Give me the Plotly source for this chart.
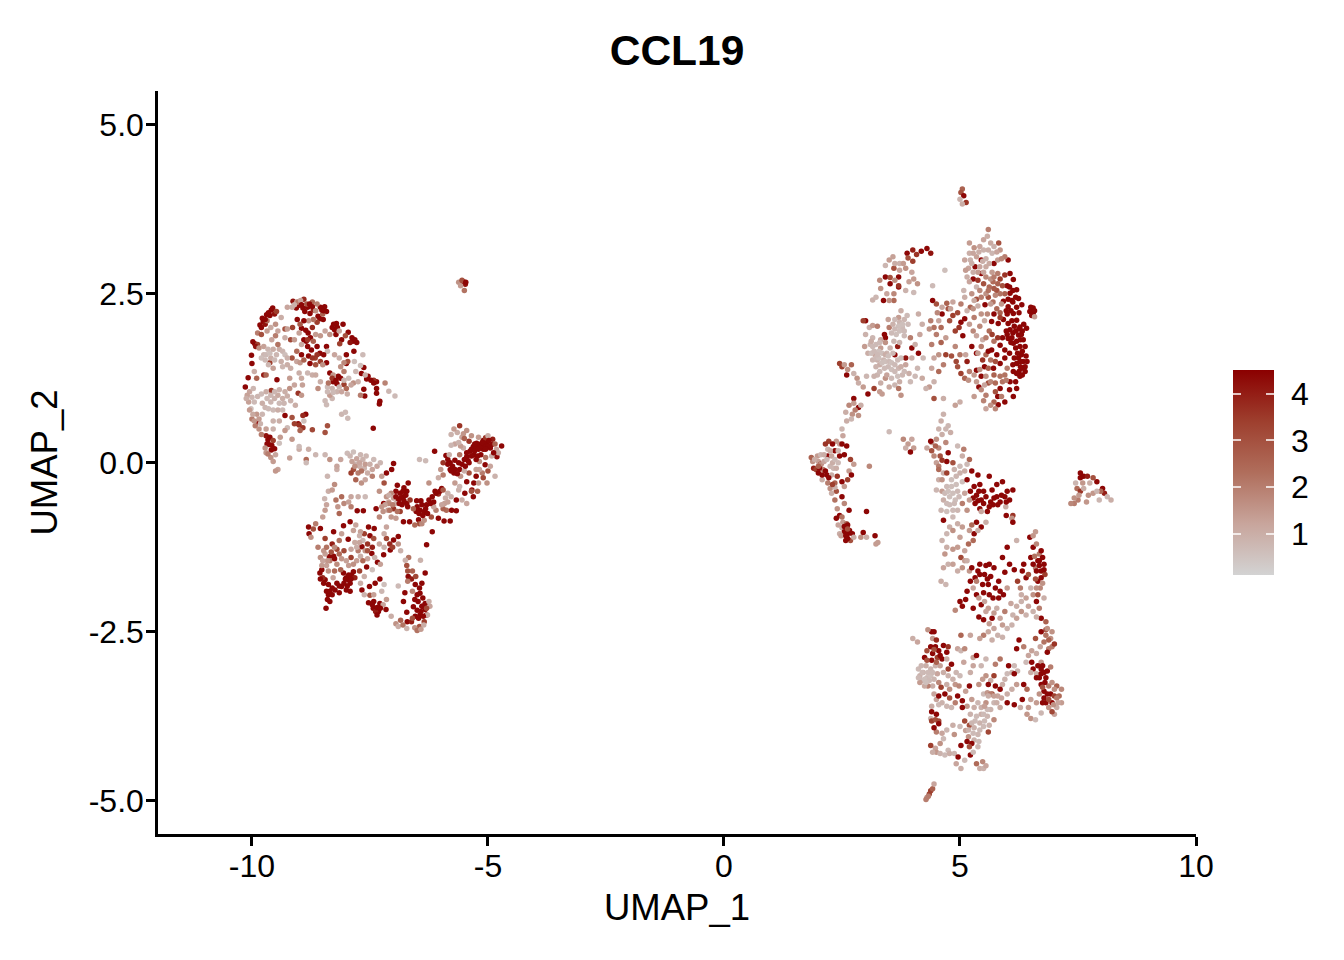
import plotly.graph_objects as go

# (UMAP_1, UMAP_2, CCL19 expression), one list per island
arc_cells = [
    (-9.76,2.09,4.4),(-9.69,2.19,4.4),(-9.59,2.26,4.4),(-9.83,2.04,4.4),(-9.94,1.76,4.4),(-10.01,1.59,4.4),
    (-10.0,1.47,4.4),(-10.08,1.26,4.4),(-10.14,1.12,4.4),(-9.13,2.39,4.2),(-8.9,2.42,3.8),(-9.06,2.29,4.4),
    (-8.88,2.24,4.4),(-8.77,2.21,4.4),(-8.46,2.31,4.4),(-8.42,2.24,4.4),(-8.49,2.12,4.4),(-9.04,2.12,4.4),
    (-8.95,1.99,4.4),(-8.81,1.92,4.4),(-8.85,1.8,4.4),(-8.74,1.67,4.4),(-8.56,1.62,4.4),(-8.42,1.72,4.4),
    (-8.21,2.06,4.4),(-8.25,1.97,4.4),(-8.07,2.05,4.4),(-7.96,1.93,4.4),(-8.1,1.82,4.4),(-7.86,1.8,4.4),
    (-7.84,1.65,4.4),(-8.0,1.6,4.4),(-8.0,1.47,4.4),(-8.42,1.48,4.4),(-8.77,1.47,4.4),(-8.35,1.33,4.4),
    (-8.17,1.28,4.4),(-8.2,1.17,4.4),(-7.68,1.32,4.4),(-7.54,1.28,4.4),(-7.36,1.2,4.4),(-7.36,1.1,4.4),
    (-7.63,1.41,4.4),(-7.63,1.09,4.4),(-7.61,0.99,4.4),(-7.29,0.91,4.4),(-7.3,0.87,4.4),(-9.47,1.23,4.4),
    (-9.59,1.07,3.6),(-9.02,1.03,3.6),(-8.86,0.72,4.4),(-9.02,0.58,4.4),(-9.3,0.7,4.4),(-9.87,0.6,4.4),
    (-7.43,0.51,4.4),(-9.66,0.34,4.4),(-9.59,0.19,4.4),(-9.52,0.21,4.4),(-9.7,0.4,4.2),(-9.64,0.27,4.2),
    (-9.8,2.0,4.4),(-9.72,2.05,4.2),(-9.62,2.18,4.4),(-9.52,2.2,4.2),(-9.0,2.33,4.4),(-8.82,2.3,4.4),
    (-8.7,2.26,4.0),(-8.55,2.3,4.4),(-8.6,2.17,4.4),(-8.72,2.0,3.8),(-8.86,1.96,4.4),(-8.9,1.82,4.4),
    (-8.82,1.72,4.4),(-8.62,1.72,4.4),(-8.66,1.55,3.4),(-8.55,1.5,3.4),(-8.3,2.0,4.4),(-8.19,2.0,4.4),
    (-7.92,1.78,4.2),(-7.78,1.78,4.4),(-8.14,1.76,3.4),(-7.97,1.5,3.0),(-8.28,1.2,4.4),(-8.05,1.16,3.4),
    (-7.57,1.24,4.4),(-7.42,1.22,3.6),(-7.36,1.03,4.4),(-9.15,1.55,3.0),(-9.18,1.82,3.2),(-9.3,1.98,3.0),
    (-9.14,2.0,3.4),(-9.62,1.48,3.4),(-9.75,1.3,4.0),(-9.98,1.79,4.4),(-9.88,1.75,3.4),(-9.0,0.56,3.6),
    (-9.1,0.58,3.4),(-9.15,0.67,3.0),(-8.92,0.7,3.8),(-8.72,0.49,3.2),(-8.4,0.55,3.0),(-8.45,0.45,3.0),
    (-9.68,2.1,2.2),(-9.5,2.05,1.6),(-9.38,2.15,1.0),(-9.25,2.3,1.2),(-9.15,2.3,1.0),(-9.05,2.38,1.4),
    (-8.72,2.38,2.4),(-8.62,2.35,2.0),(-8.5,2.2,2.6),(-9.6,2.0,1.1),(-9.45,1.95,1.2),(-9.25,1.98,1.3),
    (-9.3,1.85,1.0),(-9.75,1.6,0.8),(-9.8,1.55,0.6),(-9.72,1.52,0.7),(-9.65,1.45,0.8),(-9.6,1.55,1.0),
    (-9.42,1.68,1.0),(-9.35,1.65,0.8),(-9.3,1.6,0.6),(-9.25,1.55,0.9),(-9.38,1.5,1.0),(-9.35,1.42,0.8),
    (-9.25,1.45,1.0),(-9.05,1.5,1.2),(-8.98,1.48,1.5),(-9.18,1.4,1.0),(-9.0,1.33,1.0),(-8.82,1.33,0.8),
    (-8.72,1.3,1.0),(-8.95,1.25,1.1),(-9.2,1.25,1.4),(-9.1,1.15,1.2),(-8.93,1.15,1.3),(-9.2,1.1,1.6),
    (-8.95,1.0,1.5),(-9.45,1.0,1.1),(-9.52,0.95,0.9),(-9.35,0.95,1.0),(-9.25,0.99,1.0),(-9.6,0.9,0.8),
    (-9.42,0.88,0.7),(-9.32,0.88,0.8),(-9.18,0.92,0.9),(-9.08,0.85,1.0),(-10.05,1.05,1.2),(-9.97,1.1,0.8),
    (-10.0,0.97,0.8),(-10.07,0.9,1.3),(-9.95,0.9,0.7),(-10.02,0.8,0.6),(-9.9,0.72,1.5),(-9.85,0.65,1.4),
    (-10.0,0.65,2.0),(-9.93,0.55,2.0),(-9.85,0.5,1.6),(-9.8,0.42,2.0),(-9.7,0.5,1.3),(-9.55,0.5,0.9),
    (-9.42,0.62,1.0),(-9.55,0.62,0.9),(-9.25,0.52,0.7),(-9.3,0.48,1.5),(-9.15,0.35,1.5),(-9.0,0.2,1.0),
    (-9.0,0.24,0.7),(-9.4,0.38,1.4),(-9.42,0.29,0.6),(-9.7,0.15,1.5),(-9.6,0.08,1.6),(-9.55,0.02,1.4),
    (-9.45,-0.1,1.3),(-9.5,-0.12,1.5),(-8.8,0.2,1.0),(-8.65,0.12,0.8),(-8.85,0.05,2.4),(-8.85,0.0,0.7),
    (-9.2,0.07,1.3),(-8.42,0.86,0.7),(-8.1,0.72,0.8),(-7.97,0.66,0.7),(-8.02,0.75,0.7),(-8.9,0.62,0.6),
    (-8.4,1.65,0.7),(-8.15,1.55,0.9),(-8.05,1.48,1.8),(-7.65,1.6,0.7),(-7.83,1.5,0.6),(-7.7,1.44,0.6),
    (-7.8,1.35,0.8),(-7.6,1.3,0.9),(-7.85,1.18,1.6),(-7.75,1.2,1.0),(-7.18,1.18,1.9),(-7.1,1.06,0.8),
    (-6.97,0.99,0.7),(-7.7,1.0,2.0),(-8.3,0.95,0.8),(-8.45,0.92,0.7),(-8.35,1.0,1.4),(-8.2,1.05,0.9),
    (-8.1,1.05,1.2),(-7.98,1.02,1.0),(-8.4,1.12,0.7),(-8.28,1.3,1.5),(-8.5,1.45,1.6),(-8.65,1.3,1.1),
    (-8.55,1.2,1.0),(-8.6,1.1,1.7),(-8.95,1.75,1.1),(-9.05,1.65,2.4),(-9.0,1.92,1.3),(-9.1,1.82,1.4),
    (-9.5,1.88,2.0),(-9.45,1.75,2.2),(-9.7,1.3,2.5),(-9.55,1.4,1.3),(-9.9,1.25,2.6),(-9.95,1.35,1.0),
    # second pass over the crowded parts of the arc
    (-9.78,2.14,4.4),(-9.72,2.12,4.4),(-9.65,2.22,4.4),(-9.56,2.29,4.4),(-9.48,2.24,3.4),(-9.88,1.92,2.0),
    (-9.8,1.9,3.0),(-9.68,1.95,1.4),(-9.58,1.82,1.2),(-9.92,1.72,4.2),(-9.85,1.7,1.6),(-9.75,1.72,1.3),
    (-9.66,1.68,0.8),(-9.7,1.6,0.7),(-9.62,1.62,0.6),(-9.52,1.52,0.7),(-9.48,1.6,0.8),(-9.55,1.68,1.0),
    (-9.02,2.38,2.0),(-8.97,2.4,1.2),(-9.1,2.34,0.9),(-8.95,2.34,4.4),(-8.92,2.29,4.4),(-8.84,2.35,2.8),
    (-8.78,2.35,4.4),(-8.72,2.31,4.4),(-8.65,2.25,1.6),(-8.52,2.26,4.4),(-8.48,2.25,4.4),(-8.56,2.13,4.4),
    (-8.62,2.08,3.4),(-8.7,2.12,2.2),(-8.8,2.1,1.5),(-8.9,2.1,4.4),(-8.98,2.05,2.8),(-8.76,1.85,4.4),
    (-8.7,1.8,2.6),(-8.82,1.82,3.6),(-8.65,1.9,1.4),(-8.55,1.88,1.5),(-8.45,1.95,1.2),(-8.35,1.9,1.6),
    (-8.22,1.9,4.4),(-8.27,2.05,4.4),(-8.15,1.95,1.2),(-8.02,1.88,3.0),(-7.88,1.85,4.4),(-7.82,1.82,4.4),
    (-8.95,1.6,4.4),(-8.9,1.52,2.6),(-8.8,1.58,4.4),(-8.72,1.55,3.6),(-8.62,1.6,3.6),(-8.65,1.45,3.0),
    (-8.48,1.6,4.4),(-8.25,1.6,1.2),(-8.12,1.42,1.6),(-8.05,1.35,2.0),(-8.3,1.25,3.6),(-8.22,1.22,4.4),
    (-8.12,1.25,4.4),(-8.38,1.18,2.2),(-8.3,1.1,0.9),(-8.4,1.05,0.7),(-8.28,1.04,0.7),(-8.15,1.12,0.8),
    (-8.05,1.22,0.8),(-7.95,1.25,0.7),(-7.9,1.15,1.2),(-8.0,1.1,2.4),(-7.48,1.22,4.4),(-7.42,1.18,4.4),
    (-10.1,1.0,1.3),(-10.12,0.95,1.0),(-10.05,0.78,1.4),(-9.98,0.72,1.1),(-9.95,0.62,1.5),(-9.82,0.58,0.9),
    (-9.78,0.72,0.8),(-9.72,0.82,0.8),(-9.78,0.88,1.0),(-9.68,0.95,0.7),(-9.88,0.98,0.8),(-9.8,1.02,0.7),
    (-9.7,1.05,1.0),(-9.6,1.0,0.8),(-9.52,1.05,0.8),(-9.42,1.08,0.9),(-9.3,1.05,1.0),(-9.65,0.8,0.7),
    (-9.55,0.78,0.7),(-9.45,0.78,1.0),(-9.35,0.78,0.7),(-9.62,0.38,4.4),(-9.68,0.28,4.4),(-9.58,0.26,4.4),
    (-9.55,0.33,3.4),(-9.72,0.22,1.6),(-9.66,0.13,2.0),(-9.5,0.12,1.2),(-8.92,0.52,3.6),(-8.98,0.48,2.6),
]
valley_cells = [
    (-6.79,-0.5,4.4),(-6.86,-0.45,4.4),(-6.69,-0.3,4.4),(-7.0,-0.01,4.4),(-7.04,-0.1,4.4),(-7.21,-0.6,4.4),
    (-7.37,-0.68,4.4),(-7.64,-0.71,4.4),(-7.77,-0.71,4.4),(-7.92,-0.87,4.4),(-8.06,-0.93,4.4),(-8.8,-0.95,4.4),
    (-8.79,-1.05,4.4),(-8.27,-1.02,4.4),(-7.53,-0.95,4.4),(-7.41,-0.97,4.4),(-6.79,-0.87,4.4),(-6.66,-0.87,4.4),
    (-6.47,-0.84,4.4),(-6.51,-0.56,4.4),(-6.44,-0.7,4.4),(-6.3,-0.62,4.4),(-6.12,-0.42,4.4),(-5.98,-0.38,4.4),
    (-6.05,-0.82,4.4),(-5.93,-0.86,4.4),(-5.8,-0.86,4.4),(-5.77,-0.7,4.4),(-5.67,-0.71,4.4),(-5.67,-0.55,4.4),
    (-6.18,-1.02,4.4),(-6.3,-1.21,4.4),(-6.95,-0.42,4.4),(-6.9,-0.55,4.4),(-6.82,-0.62,4.4),(-6.72,-0.6,4.4),
    (-6.72,-0.42,4.4),(-6.92,-0.33,4.4),(-6.78,-0.37,4.4),(-6.42,-0.56,4.4),(-6.35,-0.72,4.4),(-6.25,-0.55,4.4),
    (-6.4,-0.62,4.4),(-6.18,-0.5,4.4),(-6.05,-0.46,3.8),(-7.0,-0.68,3.6),(-6.86,-0.72,3.4),(-6.45,-0.9,3.0),
    (-8.56,-1.63,4.4),(-8.45,-1.73,4.4),(-8.38,-1.8,4.4),(-8.38,-1.95,4.4),(-8.43,-2.15,4.4),(-8.24,-1.88,4.4),
    (-8.1,-1.83,4.4),(-7.96,-1.73,4.4),(-8.06,-1.63,4.4),(-7.89,-1.66,4.4),(-7.85,-1.61,4.4),(-7.57,-1.54,4.4),
    (-7.34,-1.47,4.4),(-7.67,-1.88,4.4),(-7.51,-1.83,4.4),(-7.53,-2.07,4.4),(-7.43,-2.15,4.4),(-7.32,-2.2,4.4),
    (-7.16,-2.17,4.4),(-7.29,-2.08,4.4),(-7.39,-1.78,4.4),(-7.29,-1.72,4.4),(-8.27,-1.38,4.4),(-8.36,-1.39,4.4),
    (-7.96,-1.13,4.4),(-7.67,-1.24,4.4),(-7.46,-1.34,4.4),(-7.21,-1.36,4.4),(-7.0,-1.14,4.4),(-6.9,-1.09,4.4),
    (-7.07,-1.29,4.4),(-8.5,-1.7,3.8),(-8.35,-2.05,4.4),(-8.3,-1.95,4.4),(-8.0,-1.7,4.4),(-7.92,-1.78,4.4),
    (-7.98,-1.82,4.4),(-7.82,-1.7,4.0),(-7.72,-1.6,3.4),(-8.15,-1.92,4.4),(-8.52,-1.58,4.4),(-7.38,-2.2,4.0),
    (-7.42,-2.05,4.4),(-7.5,-1.96,3.0),(-7.9,-1.4,3.4),(-8.05,-1.3,3.2),(-8.2,-1.28,3.2),(-8.3,-1.2,4.0),
    (-8.45,-1.12,3.4),(-7.55,-1.2,3.6),(-7.5,-1.08,4.4),(-7.62,-1.05,3.4),(-7.08,-1.2,3.8),(-7.15,-1.12,3.2),
    (-7.02,-1.25,3.4),(-7.45,-1.25,4.0),(-6.69,-1.68,4.4),(-6.33,-1.63,4.4),(-6.54,-1.8,4.4),(-6.4,-1.78,4.4),
    (-6.44,-1.93,4.4),(-6.76,-1.92,4.4),(-6.79,-2.05,4.4),(-6.58,-2.13,4.4),(-6.33,-2.08,4.4),(-6.33,-2.17,4.4),
    (-6.44,-2.25,4.4),(-6.72,-2.21,4.4),(-6.71,-2.35,4.4),(-6.54,-2.27,4.4),(-6.38,-2.0,4.4),(-6.3,-2.25,4.4),
    (-6.5,-1.95,4.4),(-6.45,-1.85,4.4),(-6.62,-1.72,4.0),(-6.7,-1.6,3.0),(-6.72,-1.52,3.0),(-6.53,-1.68,3.2),
    (-6.6,-1.6,2.6),(-6.62,-2.35,4.0),(-6.45,-2.42,3.0),(-6.35,-2.35,3.4),(-6.85,-2.33,2.6),(-6.95,-2.38,1.6),
    (-6.9,-2.42,1.0),(-6.8,-2.4,2.2),(-6.72,-2.45,0.9),(-6.55,-2.44,1.6),(-6.5,-2.48,2.2),(-6.42,-2.46,1.4),
    (-6.36,-2.4,1.0),(-6.28,-2.25,1.0),(-6.23,-2.12,1.2),(-6.25,-2.05,1.0),(-7.05,-2.27,1.0),(-6.9,-1.82,0.7),
    (-6.68,-1.4,2.2),(-6.75,-1.44,0.9),(-6.43,-1.44,0.9),(-6.6,-1.9,1.8),(-6.7,-1.75,2.0),
    (-8.75,-1.1,1.6),(-8.55,-0.97,4.4),(-8.65,-0.9,2.0),(-8.7,-0.98,3.0),(-8.6,-1.25,2.0),(-8.55,-1.4,1.6),
    (-8.52,-1.52,1.4),(-8.42,-1.52,1.3),(-8.35,-1.45,2.0),(-8.2,-1.5,1.7),(-8.1,-1.42,1.5),(-8.0,-1.45,1.3),
    (-8.45,-1.35,1.3),(-8.25,-1.25,1.7),(-8.15,-1.15,2.2),(-8.1,-1.05,1.3),(-7.85,-1.0,1.3),(-7.8,-0.92,1.2),
    (-7.7,-1.02,1.3),(-7.65,-1.15,0.8),(-7.72,-1.18,1.2),(-7.6,-1.3,1.5),(-7.75,-1.3,2.0),(-7.55,-1.42,1.2),
    (-7.4,-1.4,0.9),(-7.28,-1.5,1.3),(-7.45,-1.58,0.6),(-7.62,-1.68,1.0),(-7.7,-1.78,1.0),(-7.62,-1.95,0.9),
    (-7.42,-1.95,1.3),(-7.25,-1.9,0.8),(-7.2,-1.8,0.6),(-7.15,-2.02,1.4),(-7.22,-2.1,1.2),(-8.46,-0.53,0.8),
    (-8.42,-0.62,1.2),(-8.45,-0.7,1.4),(-8.5,-0.8,1.3),(-8.38,-0.42,1.0),(-8.25,-0.32,1.7),(-8.3,-0.4,1.4),
    (-8.4,-0.2,0.8),(-8.18,-0.65,1.5),(-8.1,-0.5,2.4),(-8.05,-0.6,1.8),(-7.95,-0.58,1.3),(-7.9,-0.65,2.0),
    (-8.22,-0.55,2.2),(-8.15,-0.75,2.5),(-7.9,-0.5,1.2),(-7.75,-0.5,1.0),(-8.2,-0.1,1.0),(-8.35,0.05,1.6),
    (-8.45,0.12,0.8),(-8.12,0.05,1.2),(-7.98,0.14,0.7),(-7.85,0.16,0.6),(-7.78,0.06,1.2),(-7.7,0.12,0.8),
    (-7.8,-0.02,0.8),(-7.72,-0.05,1.0),(-7.65,0.05,0.9),(-7.62,-0.08,0.9),(-7.75,-0.15,2.0),(-7.85,-0.1,3.0),
    (-7.9,-0.15,3.4),(-7.8,-0.25,2.6),(-7.68,-0.3,1.6),(-7.6,-0.25,1.2),(-7.55,-0.15,1.0),(-7.45,-0.1,1.2),
    (-7.35,-0.05,1.2),(-7.28,0.0,0.8),(-7.42,0.05,0.7),(-7.25,-0.2,1.4),(-7.2,-0.3,3.0),(-7.15,-0.15,4.4),
    (-7.6,-0.5,0.7),(-7.3,-0.42,1.6),(-7.15,-0.5,1.6),(-7.1,-0.58,1.3),(-7.05,-0.45,1.8),(-7.0,-0.52,1.3),
    (-7.22,-0.72,1.6),(-7.12,-0.7,1.4),(-7.05,-0.8,1.5),(-6.92,-0.72,2.2),(-6.95,-0.6,1.0),(-7.3,-0.8,1.8),
    (-6.9,-1.2,1.6),(-6.85,-1.3,0.9),(-7.15,-0.95,1.2),(-7.2,-1.05,1.0),(-6.95,-0.82,1.4),(-6.55,-0.92,2.4),
    (-6.4,-0.9,1.8),(-6.35,-0.85,1.6),(-5.92,-0.6,1.3),(-5.88,-0.7,2.4),(-5.95,-0.68,2.6),(-5.9,-0.52,1.0),
    (-5.85,-0.45,0.9),(-5.78,-0.5,1.0),(-5.62,-0.4,0.9),(-5.55,-0.55,1.0),(-5.45,-0.6,1.2),(-6.45,0.05,0.7),
    (-6.32,0.03,0.7),(-6.1,-0.7,2.0),(-6.15,-0.65,1.2),(-6.2,-0.8,3.0),
    # second pass over the crowded parts of the valley
    (-6.85,-0.52,4.4),(-6.78,-0.56,4.4),(-6.74,-0.48,4.4),(-6.88,-0.6,4.4),(-6.8,-0.42,4.4),(-6.95,-0.5,4.4),
    (-6.7,-0.65,4.4),(-6.65,-0.55,3.6),(-6.5,-0.65,4.4),(-6.46,-0.75,4.4),(-6.38,-0.78,4.4),(-6.32,-0.68,4.4),
    (-6.28,-0.75,4.4),(-6.22,-0.6,4.4),(-6.15,-0.58,4.4),(-6.52,-0.72,4.4),(-6.58,-0.68,2.6),(-6.1,-0.45,4.4),
    (-6.02,-0.42,4.4),(-5.95,-0.4,2.8),(-8.02,-1.72,4.4),(-8.05,-1.78,4.4),(-7.95,-1.66,4.4),(-7.9,-1.72,4.4),
    (-8.15,-1.82,4.4),(-8.2,-1.78,4.4),(-8.3,-1.85,4.4),(-8.42,-1.9,4.4),(-8.35,-1.9,4.4),(-8.4,-2.02,4.4),
    (-8.48,-1.78,4.4),(-8.55,-1.72,4.4),(-8.0,-1.88,4.4),(-7.92,-1.9,4.4),(-7.45,-2.1,4.4),(-7.35,-2.14,4.4),
    (-7.28,-2.15,4.4),(-7.35,-2.25,4.4),(-6.4,-2.12,4.4),(-6.42,-2.2,4.4),(-6.37,-2.27,4.4),(-6.48,-2.05,4.4),
    (-6.38,-2.12,4.4),(-6.3,-2.15,3.2),(-6.55,-2.02,4.4),(-6.5,-2.18,4.4),(-6.47,-2.3,4.4),(-6.6,-2.3,3.0),
    (-8.25,-1.42,4.4),(-8.32,-1.32,3.0),(-8.15,-1.35,2.4),(-8.4,-1.45,1.5),(-8.5,-1.45,1.2),(-8.48,-1.3,1.5),
    (-8.42,-1.25,2.2),(-7.9,-1.28,1.2),(-7.82,-1.18,1.1),(-7.72,-1.08,0.9),(-7.78,-1.25,1.0),(-7.7,-1.38,1.0),
    (-7.78,-1.45,1.3),(-7.65,-1.45,2.4),(-7.55,-1.3,3.0),(-7.42,-1.12,3.0),(-7.3,-1.2,1.2),(-7.2,-1.25,0.9),
    (-7.95,-1.52,1.4),(-7.85,-1.5,1.6),(-8.12,-1.58,2.6),(-8.25,-1.6,2.4),(-8.38,-1.6,1.6),(-8.28,-1.7,1.2),
    (-8.2,-0.05,1.2),(-7.88,0.02,1.3),(-7.82,-0.05,1.6),(-7.72,0.0,1.2),(-7.68,-0.12,2.2),(-7.6,-0.02,1.4),
    (-7.58,0.1,0.8),(-7.92,0.1,0.8),(-7.5,-0.02,1.0),(-7.45,-0.2,2.0),(-7.1,-0.6,1.8),(-7.08,-0.7,2.2),
    (-7.02,-0.62,2.0),(-7.1,-0.48,1.0),(-7.18,-0.62,1.3),(-7.25,-0.65,1.5),(-5.98,-0.62,1.2),(-5.85,-0.58,1.3),
]
branch_cells = [
    (-6.13,0.17,4.4),(-5.89,0.11,4.4),(-5.8,0.0,4.4),(-5.7,0.04,4.4),(-5.8,-0.1,4.4),(-5.45,0.09,4.4),
    (-5.38,0.17,4.4),(-5.31,0.24,4.4),(-5.24,0.29,4.4),(-5.1,0.33,4.4),(-4.92,0.27,4.4),(-4.71,0.25,4.4),
    (-4.81,0.09,4.4),(-5.06,-0.03,4.4),(-5.45,-0.28,4.4),(-5.49,-0.45,4.4),(-5.31,-0.5,4.4),(-5.34,-0.4,4.4),
    (-5.25,0.22,4.4),(-5.18,0.27,4.4),(-5.1,0.2,4.4),(-5.02,0.3,4.4),(-4.95,0.22,4.4),(-5.3,0.12,4.4),
    (-5.22,0.1,4.4),(-5.15,0.12,4.4),(-5.42,0.03,4.4),(-5.62,0.0,4.4),(-5.6,-0.1,4.4),(-5.72,-0.15,4.4),
    (-5.85,0.05,4.4),(-5.95,0.0,3.6),(-5.75,-0.05,4.4),(-4.9,0.35,4.0),(-4.85,0.28,2.6),(-5.05,0.37,3.6),
    (-5.2,0.38,1.4),(-5.0,0.4,1.0),(-4.82,0.2,1.2),(-4.78,0.15,1.0),(-5.18,0.02,1.6),(-5.05,0.08,2.2),
    (-4.92,0.1,1.0),(-5.0,-0.12,3.0),(-5.12,-0.15,2.0),(-5.18,-0.1,1.2),(-4.95,-0.05,1.2),(-4.85,-0.2,0.9),
    (-5.25,-0.2,4.4),(-5.4,-0.15,3.0),(-5.5,-0.12,1.0),(-5.58,-0.2,1.5),(-5.3,-0.3,4.4),(-5.6,0.12,2.2),
    (-5.52,0.22,1.0),(-5.58,0.25,1.4),(-5.7,0.28,1.2),(-5.78,0.26,0.8),(-5.62,0.3,0.9),(-5.55,0.38,1.2),
    (-5.65,0.45,1.0),(-5.72,0.5,1.4),(-5.6,0.55,3.6),(-5.78,0.42,0.9),(-5.52,0.43,1.5),(-5.45,0.48,1.6),
    (-5.4,0.32,3.6),(-5.5,0.36,2.6),(-5.35,0.4,1.6),(-5.82,0.12,1.0),(-5.25,-0.1,1.3),(-5.1,-0.22,3.2),
    (-5.02,-0.3,1.6),(-5.2,-0.3,1.4),(-5.35,-0.42,3.0),(-5.22,-0.42,2.6),(-5.7,-0.3,1.4),(-5.6,-0.35,0.8),
    (-6.0,-0.1,1.5),(-6.05,-0.22,1.0),(-5.95,-0.18,2.0),(-6.25,-0.3,1.6),
    # second pass over the dark knot
    (-5.35,0.2,4.4),(-5.28,0.18,4.4),(-5.2,0.2,4.4),(-5.14,0.25,4.4),(-5.07,0.27,4.4),(-5.28,0.28,4.4),
    (-5.35,0.1,4.4),(-5.25,0.05,4.4),(-5.45,0.15,4.4),(-5.12,0.3,4.4),(-5.0,0.25,4.4),(-5.05,0.2,4.4),
    (-4.98,0.33,4.4),(-4.88,0.15,4.4),(-5.4,0.0,4.4),(-5.5,0.05,4.4),(-5.55,-0.02,4.4),(-5.48,-0.05,4.4),
    (-5.7,-0.1,4.4),(-5.65,-0.16,4.4),(-5.78,-0.12,4.4),(-5.85,-0.02,4.4),
]
patch_cells = [
    (-5.62,2.67,1.6),(-5.52,2.68,4.4),(-5.48,2.64,4.2),(-5.55,2.7,3.0),(-5.58,2.62,1.4),(-5.5,2.55,2.2),
    (-5.47,2.67,4.4),
]
right_top_cells = [
    (6.02,3.0,4.4),(6.06,2.8,4.4),(6.13,2.71,4.4),(6.2,2.56,4.4),(6.24,2.43,4.4),(6.06,2.51,4.4),(5.92,2.39,4.4),
    (6.02,2.31,4.4),(6.13,2.21,4.4),(6.31,2.34,4.4),(6.55,2.29,4.4),(6.55,2.21,4.4),(6.48,2.24,4.4),(6.2,2.11,4.4),
    (6.02,2.06,4.4),(6.06,1.97,4.4),(6.27,2.01,4.4),(6.41,1.99,4.4),(6.24,1.89,4.4),(6.02,1.84,4.4),(6.13,1.77,4.4),
    (6.34,1.82,4.4),(6.27,1.72,4.4),(5.85,1.74,4.4),(5.67,1.67,4.4),(5.78,1.6,4.4),(5.95,1.67,4.4),(6.24,1.55,4.4),
    (6.34,1.5,4.4),(6.2,1.47,4.4),(6.31,1.4,4.4),(5.85,1.47,4.4),(6.13,1.35,4.4),(6.27,1.28,4.4),(6.06,1.2,4.4),
    (6.2,1.1,4.4),(6.13,0.98,4.4),(5.81,0.86,4.4),(5.71,1.4,4.4),(5.35,1.37,4.4),(5.53,2.34,4.4),(5.67,2.09,4.4),
    (5.81,2.06,4.4),(6.0,2.2,4.4),(6.1,2.1,4.4),(5.98,1.95,4.4),(6.18,1.95,4.4),(6.3,1.9,4.4),(6.1,1.85,4.4),
    (6.18,1.7,4.4),(5.95,1.55,4.4),(6.3,1.6,4.4),(6.38,1.42,4.4),(6.28,1.5,4.4),(6.15,1.55,4.4),(6.25,1.35,4.4),
    (6.18,1.2,4.4),(6.05,1.08,4.4),(6.1,2.4,4.4),(6.0,2.62,4.4),(5.95,2.78,3.6),(5.85,2.72,3.4),(5.9,2.62,3.0),
    (5.78,2.55,3.0),(5.72,2.95,4.4),(5.45,3.0,4.4),(5.32,2.9,4.4),(5.28,2.72,4.4),(5.45,2.8,4.4),(5.38,2.7,3.6),
    (5.5,2.65,3.0),(5.6,2.45,3.0),(5.35,2.42,3.0),(5.22,2.3,2.6),(4.95,2.22,3.2),(4.75,2.28,3.0),(4.42,2.4,4.4),
    (4.5,2.35,3.0),(4.72,2.36,2.6),(4.98,2.0,3.6),(4.9,1.95,3.4),(5.02,2.08,4.4),(5.06,1.88,4.4),(5.1,2.13,4.4),
    (4.85,2.18,3.4),(4.78,2.1,3.0),(4.62,2.2,4.4),(5.35,1.62,4.4),(5.25,1.72,4.4),(5.48,1.52,3.6),(5.52,1.42,4.4),
    (5.45,1.28,4.4),(5.4,1.12,4.4),(5.6,1.18,3.0),(5.75,1.05,3.0),(5.8,0.98,4.4),(5.95,0.9,4.4),(5.85,1.1,4.4),
    (5.02,1.32,3.4),(4.92,1.5,3.2),(4.82,1.58,3.0),(4.7,1.6,3.4),(4.95,1.42,3.0),(5.15,1.5,4.0),(4.12,1.62,4.4),
    (3.98,1.7,4.4),(3.85,1.55,4.2),(3.62,1.6,4.4),(3.68,1.72,4.0),(3.4,1.9,4.4),(3.42,1.85,4.4),(3.38,2.4,4.4),
    (3.52,2.65,4.4),(3.42,2.75,4.4),(3.7,2.6,4.4),(3.7,2.75,4.4),(3.7,2.62,3.6),(3.52,2.74,3.0),(3.72,2.85,1.2),
    (3.0,2.1,4.4),(2.95,2.1,3.4),(3.6,2.88,3.0),(3.88,3.1,4.4),(4.0,3.15,4.0),(4.3,3.17,4.4),(4.18,3.13,4.4),
    (4.38,3.1,4.2),(4.08,3.08,3.6),(3.9,3.03,3.0),(4.0,2.98,3.4),(2.45,1.47,3.4),(2.5,1.42,3.4),(2.6,1.3,4.4),
    (3.05,1.02,4.4),(3.18,1.1,3.4),(2.75,0.95,4.4),
    (4.45,2.0,2.2),(4.5,1.9,2.0),(4.6,2.0,2.4),(4.4,1.75,2.0),(4.6,1.78,2.6),(4.7,1.85,1.4),(4.55,1.6,1.6),
    (4.45,1.55,1.2),(4.65,1.45,2.0),(4.4,1.4,1.2),(4.55,1.35,2.4),(4.9,1.72,1.8),(5.0,1.6,2.2),(5.12,1.6,1.2),
    (5.1,1.25,2.5),(5.2,1.35,2.0),(5.35,1.2,1.4),(5.45,1.08,1.8),(5.55,1.0,2.0),(5.72,0.9,2.5),(5.88,0.98,2.0),
    (5.75,0.8,1.8),(5.65,0.85,1.6),(5.5,0.92,1.9),(5.3,0.98,1.4),(5.0,0.9,1.0),(5.38,1.62,1.4),(5.45,1.72,2.0),
    (5.55,1.6,2.4),(5.65,1.52,2.2),(5.6,1.4,2.6),(5.72,1.3,2.6),(5.85,1.28,2.2),(5.95,1.3,2.2),(6.0,1.4,2.0),
    (5.48,1.82,1.0),(5.35,1.88,1.2),(5.28,1.95,1.8),(5.2,2.05,1.4),(5.3,2.15,2.0),(5.45,2.2,1.6),(5.58,2.2,1.8),
    (5.52,2.1,1.1),(5.42,2.02,1.8),(5.62,1.95,2.4),(5.72,1.8,2.2),(5.55,1.85,2.0),(5.78,2.28,2.4),(5.85,2.22,2.6),
    (5.88,2.35,1.5),(5.7,2.38,2.2),(5.62,2.6,2.4),(5.7,2.68,2.4),(5.8,2.8,2.0),(5.68,2.82,1.4),(5.55,2.9,1.1),
    (5.55,2.75,1.8),(5.42,2.9,1.2),(5.35,3.05,1.3),(5.22,3.0,0.9),(5.2,3.1,1.0),(5.18,2.88,1.2),(5.3,3.18,1.6),
    (5.42,3.2,1.2),(5.2,3.25,1.4),(5.5,3.3,1.2),(5.58,3.35,1.0),(5.6,3.45,2.0),(5.65,3.25,1.1),(5.82,3.25,3.0),
    (5.85,3.15,1.5),(5.95,3.05,2.0),(5.68,3.1,0.8),(5.8,3.0,1.4),(5.25,2.95,1.0),(5.1,3.0,1.2),(5.35,2.6,0.8),
    (5.15,2.75,1.0),(5.08,2.55,0.8),(5.1,2.45,1.0),(5.25,2.5,1.6),(5.42,2.55,1.8),(5.28,2.28,1.6),(5.15,2.25,0.9),
    (5.02,2.35,2.0),(4.85,2.38,1.2),(4.8,2.28,1.3),(4.62,2.3,1.2),(4.52,2.22,1.8),(4.55,2.1,1.2),(4.38,2.1,2.0),
    (4.35,1.98,1.6),(4.12,2.2,1.0),(4.2,2.05,1.0),(4.15,1.9,1.2),(3.95,1.85,2.0),(4.05,1.75,1.0),(3.98,1.55,1.0),
    (3.6,2.4,2.4),(3.7,2.15,1.4),(3.75,2.25,1.0),(3.6,2.5,1.8),(4.02,2.52,0.7),(4.42,2.62,0.7),(4.68,2.85,0.6),
    (3.85,2.55,0.9),(3.62,2.95,1.0),(3.5,3.0,1.4),(3.58,3.05,1.3),(3.72,2.95,0.9),(3.8,2.95,1.4),(3.85,2.88,1.6),
    (3.98,2.82,1.2),(4.02,2.72,1.4),(4.1,2.65,1.6),(3.92,2.68,1.3),(3.42,2.92,0.8),(3.3,2.7,1.8),(3.32,2.58,1.6),
    (3.45,2.5,1.2),(3.5,2.4,1.6),(3.62,2.7,1.6),(3.15,2.41,0.9),(3.22,2.45,0.8),
    (4.1,1.4,0.8),(4.2,1.25,1.1),(4.05,1.28,0.7),(4.22,1.55,0.7),(3.0,1.9,0.9),(3.15,1.85,0.8),(3.08,2.0,0.9),
    (3.15,2.03,1.4),(3.25,2.02,2.0),(3.1,1.75,0.8),(3.05,1.62,1.0),(2.98,1.72,1.4),(3.2,1.6,1.2),(3.25,1.52,0.9),
    (3.32,1.7,1.4),(3.32,1.82,1.2),(3.42,1.78,1.6),(3.5,2.0,2.0),(3.48,2.12,1.3),(3.58,2.05,0.9),(3.62,2.12,0.7),
    (3.72,2.08,0.8),(3.78,2.0,0.7),(3.65,1.9,0.6),(3.72,1.95,0.6),(3.82,2.12,0.8),(3.88,2.18,0.7),(3.9,2.05,0.7),
    (3.82,1.88,0.7),(3.72,1.78,0.8),(3.6,1.8,0.8),(3.52,1.7,0.9),(3.58,1.62,0.7),(3.45,1.62,0.8),(3.38,1.52,0.8),
    (3.3,1.45,1.0),(3.22,1.42,0.9),(3.12,1.62,0.6),(3.15,1.72,0.7),(3.22,1.75,0.7),(3.28,1.65,0.6),(3.35,1.62,0.6),
    (3.42,1.6,1.0),(3.15,1.52,0.8),(3.25,1.3,0.8),(3.18,1.28,0.9),(3.32,1.18,1.0),(3.42,1.25,1.6),(3.48,1.42,0.7),
    (3.55,1.38,0.6),(3.62,1.35,0.7),(3.7,1.4,0.8),(3.78,1.3,0.8),(3.68,1.28,0.6),(3.55,1.25,0.7),(3.45,1.3,1.2),
    (3.75,1.42,1.0),(3.82,1.35,0.7),(3.85,1.45,1.2),(3.92,1.32,1.0),(3.95,1.2,0.7),(3.62,1.15,0.8),(3.5,1.12,1.1),
    (3.35,1.02,1.4),(3.7,1.1,2.2),(3.72,1.2,1.0),(3.75,1.0,1.6),(3.3,1.05,1.4),(2.7,1.45,2.6),(2.55,1.45,1.4),
    (2.62,1.38,1.6),(2.75,1.32,0.9),(2.82,1.25,1.6),(3.02,1.28,0.8),(2.95,1.12,1.4),(2.85,1.18,1.0),(4.45,1.2,0.9),
    (4.35,1.12,1.4),(4.28,1.1,0.9),(4.65,0.95,1.0),(4.45,0.95,3.0),
    (5.05,4.05,2.6),(5.02,4.0,3.0),(5.08,3.95,4.4),(5.13,3.85,3.6),(5.0,3.9,0.8),(5.05,3.83,1.0),
    # second pass over the crowded right side of the blob
    (6.05,2.6,4.4),(6.12,2.55,4.4),(6.18,2.45,4.4),(6.12,2.38,4.4),(6.02,2.42,4.4),(5.98,2.25,4.4),(6.08,2.25,4.4),
    (6.2,2.3,4.4),(6.25,2.22,4.4),(6.15,2.02,4.4),(6.25,1.98,4.4),(6.35,2.05,4.4),(6.32,1.95,4.4),(6.12,1.92,4.4),
    (6.0,1.9,4.4),(6.08,1.78,4.4),(6.2,1.8,4.4),(6.28,1.82,4.4),(6.38,1.72,4.4),(6.32,1.65,4.4),(6.22,1.62,4.4),
    (6.4,1.58,4.4),(6.42,1.5,4.4),(6.28,1.42,4.4),(6.2,1.32,4.4),(6.32,1.3,4.4),(6.38,1.35,4.4),(6.12,1.45,4.4),
    (6.05,1.62,4.4),(5.9,1.85,4.4),(5.92,2.12,4.4),(5.85,2.15,3.4),(5.72,2.2,4.4),(5.68,1.9,3.4),(5.8,1.85,3.6),
    (5.6,1.65,4.4),(5.75,1.5,3.0),(6.5,2.3,4.4),(6.58,2.25,4.4),(6.52,2.18,4.4),(6.58,2.16,1.4),
    (5.95,2.5,2.6),(5.85,2.5,2.2),(5.75,2.48,1.8),(5.65,2.35,1.4),(5.55,2.5,1.6),(5.45,2.45,2.0),(5.38,2.32,1.0),
    (5.3,2.4,1.1),(5.6,2.55,2.2),(5.72,2.58,2.8),(5.8,2.65,2.6),(5.65,2.72,1.6),(5.5,2.82,1.2),(5.38,2.82,1.4),
    (5.28,2.82,1.0),(5.2,2.68,1.2),(5.12,2.85,1.4),(5.48,2.98,1.0),(5.55,3.02,0.9),(5.62,2.95,1.1),(5.72,2.75,2.0),
    (5.28,3.1,1.2),(5.4,3.12,1.0),(5.5,3.15,0.9),(5.6,3.15,1.0),(5.72,3.2,0.9),(5.78,3.12,1.2),(5.88,3.02,1.8),
    (5.42,1.38,1.6),(5.55,1.28,1.6),(5.65,1.2,1.8),(5.75,1.18,2.4),(5.9,1.2,2.2),(5.98,1.22,2.0),(5.52,1.15,1.2),
    (5.3,1.3,1.4),(5.18,1.22,1.6),(5.55,0.8,1.2),
    (3.22,1.55,0.7),(3.28,1.55,0.6),(3.35,1.48,0.6),(3.4,1.4,0.7),(3.3,1.35,0.7),(3.42,1.5,0.6),(3.5,1.5,0.7),
    (3.55,1.48,0.6),(3.62,1.45,0.7),(3.48,1.58,0.6),(3.18,1.65,0.7),(3.25,1.6,0.7),(3.3,1.78,0.7),(3.12,1.8,1.0),
    (3.68,1.52,0.7),(3.75,1.55,0.6),(3.78,2.05,0.6),(3.7,2.02,0.6),(3.62,1.98,0.7),(3.55,1.92,0.7),(3.82,1.95,0.7),
]
right_mid_cells = [
    (4.5,0.35,1.6),(4.4,0.3,1.4),(4.3,0.22,1.2),(4.45,0.1,1.8),(4.5,0.0,1.3),(4.55,-0.05,2.0),(4.58,0.1,3.0),
    (4.55,0.22,1.8),(4.7,0.3,1.8),(4.62,0.42,1.0),(4.6,0.62,1.0),(4.65,0.72,0.9),(4.9,0.85,1.3),(4.55,0.5,0.9),
    (4.75,0.15,4.4),(4.72,0.02,4.4),(4.85,0.0,3.0),(4.62,0.04,3.6),(4.38,0.32,4.4),(4.02,0.22,1.4),(3.9,0.28,1.4),
    (3.85,0.22,1.0),(3.8,0.35,1.8),(3.98,0.35,1.2),(3.95,0.16,4.4),(3.5,0.46,0.7),(3.08,-0.05,1.8),(4.7,0.5,0.8),
    (4.95,0.25,0.7),(5.05,0.1,1.0),(5.2,0.05,2.5),(5.08,0.2,2.0),(4.75,0.55,0.8),(4.8,0.45,1.0),(4.65,-0.15,0.9),
    (4.55,-0.25,1.0),(4.62,-0.42,1.4),(4.5,-0.4,0.8),(4.65,-0.55,1.0),(4.72,-0.6,0.7),(4.78,-0.5,0.6),(4.85,-0.45,0.6),
    (4.72,-0.35,0.7),(4.82,-0.25,0.6),(4.92,-0.2,0.8),(5.0,-0.15,0.9),(4.92,-0.32,0.6),(5.05,-0.28,0.6),(5.1,-0.12,1.0),
    (5.15,-0.02,0.7),(5.0,-0.05,0.7),(4.88,-0.1,0.9),(4.72,-0.15,3.4),(5.15,-0.25,4.4),(5.25,-0.12,4.4),(5.38,-0.18,4.4),
    (5.42,-0.32,4.4),(5.22,-0.42,4.4),(5.35,-0.48,4.4),(5.45,-0.55,4.4),(5.32,-0.6,4.4),(5.42,-0.68,4.4),(5.5,-0.42,4.4),
    (5.62,-0.2,4.4),(5.68,-0.4,4.4),(5.65,-0.58,4.4),(5.58,-0.72,4.4),(5.7,-0.62,4.4),(5.78,-0.5,4.4),(5.85,-0.58,4.4),
    (5.95,-0.5,4.4),(6.0,-0.42,4.4),(6.12,-0.4,4.4),(6.05,-0.55,4.4),(6.12,-0.78,3.6),(5.97,-0.65,1.0),(5.98,-0.78,4.4),
    (6.1,-0.82,1.6),(6.12,-0.88,4.4),(5.78,-0.32,4.4),(5.9,-0.28,4.4),(5.35,-0.88,4.4),(5.45,-0.95,4.4),(5.3,-1.05,4.4),
    (5.45,-0.72,1.2),(5.55,-0.88,1.0),(5.25,-0.92,2.4),(5.2,-1.0,1.4),(5.28,-1.15,2.4),(5.38,-1.0,1.0),(4.65,-0.85,4.4),
    (4.6,-0.7,0.8),(4.9,-0.55,0.6),(4.95,-0.7,0.8),(4.85,-0.8,0.7),(4.78,-0.95,1.0),(4.72,-1.05,0.8),(4.85,-1.0,1.6),
    (4.95,-0.9,1.0),(5.05,-0.95,1.4),(5.0,-1.1,1.3),(4.62,-1.15,0.9),(4.72,-1.25,1.0),(4.85,-1.28,1.5),(4.95,-1.25,1.4),
    (5.1,-1.3,1.2),(5.02,-1.4,3.2),(4.68,-1.35,1.5),(4.75,-1.5,0.9),(4.65,-1.55,1.2),(4.85,-1.5,1.3),(4.95,-1.6,1.0),
    (5.05,-1.55,1.6),(4.6,-1.75,1.0),(4.7,-1.8,0.8),(5.1,-1.45,1.3),(5.18,-1.2,2.4),(5.15,-1.45,1.0),(5.2,-1.6,1.5),
    (5.25,-1.55,4.4),(5.22,-1.75,4.4),(5.42,-1.5,4.4),(5.52,-1.65,4.4),(5.62,-1.5,4.4),(5.72,-1.55,4.4),(5.48,-1.8,4.4),
    (5.6,-1.8,4.4),(5.82,-1.75,4.4),(5.95,-1.62,4.4),(5.7,-2.0,4.4),(5.82,-2.0,4.4),(5.92,-1.95,4.4),(5.45,-2.1,4.4),
    (5.35,-1.95,4.4),(5.15,-1.9,4.4),(5.0,-2.05,4.4),(4.9,-2.18,1.8),(5.12,-2.02,4.4),(5.05,-2.12,4.4),(5.28,-2.15,4.4),
    (5.4,-2.28,4.4),(5.5,-2.32,4.4),(5.52,-2.05,1.2),(5.6,-2.15,1.4),(5.68,-2.3,4.4),(5.78,-2.15,1.0),(5.95,-2.2,2.0),
    (6.2,-1.15,0.9),(6.0,-1.25,4.4),(5.9,-1.4,4.4),(6.05,-1.5,4.4),(6.15,-1.58,4.4),(6.22,-1.75,3.4),(6.32,-1.6,4.4),
    (6.35,-1.5,4.4),(6.4,-1.7,4.4),(6.5,-1.4,4.4),(6.55,-1.25,4.4),(6.48,-1.1,4.4),(6.65,-1.45,4.4),(6.72,-1.6,4.4),
    (6.78,-1.5,4.4),(6.65,-1.75,4.4),(6.8,-1.65,3.4),(6.7,-1.85,1.8),(6.62,-2.05,4.4),(6.72,-2.3,4.4),(6.55,-1.95,1.6),
    (6.65,-1.95,3.0),(6.45,-1.65,3.0),(6.6,-1.55,2.0),(6.68,-1.35,2.0),(6.62,-1.2,1.8),(6.55,-1.08,1.5),(6.6,-1.02,1.4),
    (6.72,-1.3,4.4),(6.75,-1.4,4.4),(6.3,-1.95,1.0),(6.4,-2.0,1.3),(6.45,-2.12,1.2),(6.3,-2.2,1.6),(6.2,-2.3,1.3),
    (6.08,-2.08,1.2),(6.12,-2.25,0.9),(6.28,-1.85,2.0),(6.5,-1.85,0.8),(6.55,-2.2,0.9),(6.82,-2.47,2.8),(6.0,-1.85,1.4),
    (5.72,-2.45,1.2),(5.8,-2.55,0.9),(5.9,-2.4,1.4),(6.0,-2.45,0.9),(5.6,-2.5,1.1),(5.5,-2.55,2.0),(5.42,-2.6,1.3),
    (5.68,-2.62,1.0),(5.9,-2.58,0.9),(5.22,-2.55,1.2),
    (7.55,-0.15,4.4),(7.55,-0.22,4.4),(7.62,-0.2,4.4),(7.7,-0.2,4.0),(7.82,-0.22,3.0),(7.9,-0.28,4.4),(8.02,-0.38,4.4),
    (8.06,-0.45,4.0),(7.98,-0.42,2.4),(7.48,-0.38,2.4),(7.55,-0.42,3.6),(7.45,-0.3,0.8),(7.62,-0.38,1.0),(7.72,-0.48,1.6),
    (7.82,-0.45,1.5),(7.9,-0.42,0.8),(8.12,-0.5,0.8),(8.2,-0.55,1.0),(7.75,-0.3,1.0),(7.68,-0.58,1.5),(7.5,-0.55,2.0),
    (7.42,-0.6,2.0),(7.35,-0.6,1.8),(7.42,-0.52,1.6),(7.52,-0.48,1.4),(7.95,-0.55,0.8),(7.6,-0.3,1.5),
    # second pass over the crowded parts of the middle
    (5.3,-0.35,4.4),(5.4,-0.42,4.4),(5.28,-0.52,4.4),(5.38,-0.56,4.4),(5.5,-0.6,4.4),(5.62,-0.65,4.4),(5.72,-0.52,4.4),
    (5.8,-0.62,4.4),(5.88,-0.48,4.4),(5.98,-0.58,4.4),(5.55,-0.5,4.4),(5.2,-0.55,1.4),(5.1,-0.45,1.2),(5.15,-0.7,1.6),
    (5.05,-0.6,2.0),(4.98,-0.5,0.7),(4.68,-0.45,0.7),(4.75,-0.42,0.6),(4.82,-0.35,0.6),(4.88,-0.6,0.7),(4.78,-0.62,0.7),
    (4.85,-0.7,0.7),(4.72,-0.72,0.6),(4.95,-0.42,0.7),(4.55,-0.1,2.4),(4.62,-0.25,1.6),(4.4,0.18,3.0),(4.48,0.25,2.6),
    (5.38,-1.6,4.4),(5.32,-1.7,4.4),(5.42,-1.65,4.4),(5.55,-1.52,4.4),(5.58,-1.72,4.4),(5.65,-1.68,4.4),(5.5,-1.92,4.4),
    (5.62,-1.95,4.4),(5.75,-1.85,4.4),(5.85,-1.9,4.4),(5.35,-1.75,2.0),(5.28,-1.85,1.2),(5.4,-2.0,1.4),(5.55,-2.2,1.2),
    (6.55,-1.5,4.4),(6.62,-1.6,4.4),(6.68,-1.52,4.4),(6.72,-1.7,4.4),(6.6,-1.72,3.0),(6.68,-1.45,4.4),(6.78,-1.58,4.4),
    (6.58,-1.38,2.2),(6.62,-1.85,1.6),(6.75,-1.78,1.6),(6.68,-2.15,2.0),(6.78,-2.0,1.0),(6.62,-2.28,1.0),(6.4,-2.25,0.9),
    (6.3,-2.05,0.9),(6.2,-2.12,1.0),(5.85,-2.3,1.2),(5.72,-2.22,1.4),(5.62,-2.38,1.4),(6.1,-2.4,0.9),
]
left_strand_cells = [
    (2.85,0.82,4.4),(2.78,0.78,2.0),(2.72,0.72,1.6),(2.65,0.85,1.8),(2.58,0.75,1.0),(2.75,0.88,1.4),(2.9,0.85,1.0),
    (2.85,0.7,1.6),(2.7,0.65,0.8),(2.6,0.62,1.0),(2.5,0.5,0.8),(2.52,0.4,1.2),(2.45,0.28,1.2),(2.38,0.32,1.4),
    (2.22,0.32,3.4),(2.15,0.28,3.6),(2.3,0.28,4.4),(2.5,0.28,4.4),(2.6,0.25,4.4),(2.35,0.18,4.4),(2.2,0.1,4.4),
    (2.45,0.1,4.4),(2.55,0.12,4.4),(2.68,0.05,3.4),(2.75,-0.02,1.4),(2.65,-0.12,1.4),(2.7,-0.18,4.4),(2.62,-0.25,3.4),
    (2.4,-0.2,3.6),(2.5,-0.28,4.4),(2.35,-0.3,2.6),(2.55,-0.35,1.4),(2.38,-0.42,3.0),(2.5,-0.5,4.4),(2.35,-0.55,2.2),
    (2.55,-0.6,1.8),(2.4,-0.68,1.6),(2.65,-0.7,4.4),(2.38,-0.82,4.4),(2.45,-0.78,4.4),(2.52,-0.88,1.4),(2.6,-0.9,2.6),
    (2.5,-0.96,1.0),(2.55,-1.02,4.4),(2.62,-1.05,4.4),(2.45,-1.05,1.0),(2.58,-1.15,4.4),(2.5,-0.8,2.2),(2.42,-0.92,1.2),
    (2.68,-1.15,3.0),(2.62,-1.12,4.4),(2.58,-1.03,4.4),(2.48,-1.08,1.3),(2.72,-1.05,4.4),(2.75,-1.1,1.0),(2.9,-1.1,1.6),
    (3.22,-1.2,1.4),(3.02,-1.1,1.0),(3.26,-1.18,1.4),(2.62,-0.92,4.4),(3.02,-0.72,4.4),(2.95,-1.03,4.4),(3.2,-1.08,4.4),
    (1.88,0.02,1.6),(1.85,0.08,2.6),(1.9,-0.08,4.0),(1.95,-0.1,3.4),(2.0,0.02,1.3),(2.0,-0.15,4.4),(2.05,-0.02,4.4),
    (2.1,-0.1,2.0),(2.15,-0.12,4.4),(2.18,-0.18,4.4),(2.08,-0.25,1.0),(2.25,-0.05,0.8),(2.3,0.0,1.0),(2.32,-0.08,0.8),
    (2.42,0.0,0.7),(2.38,-0.08,1.0),(2.28,-0.18,1.0),(2.2,-0.3,2.0),(2.25,-0.38,1.6),(2.28,-0.45,1.0),(2.35,-0.36,0.9),
    (1.98,0.1,1.4),(1.92,0.05,1.0),(2.05,0.12,0.8),(2.12,0.12,1.0),(2.2,0.2,0.8),(2.42,0.18,0.8),(2.05,-0.02,1.6),
    (2.02,-0.08,4.4),(2.08,-0.18,4.4),(2.22,-0.22,4.4),(2.3,-0.32,3.4),(2.12,0.02,1.2),(2.18,0.05,0.7),(2.28,0.1,1.2),
    (2.35,0.05,0.7),(2.25,0.18,1.0),(2.0,-0.05,2.6),(2.58,-1.08,4.4),(2.66,-1.0,4.4),(2.55,-0.94,4.4),(2.62,-0.98,3.0),
]
right_low_cells = [
    (5.02,-2.55,2.5),(4.4,-2.5,4.4),(4.45,-2.5,4.4),(4.32,-2.47,1.6),(4.42,-2.6,1.4),(4.0,-2.6,1.0),(4.1,-2.65,1.2),
    (4.5,-2.62,3.8),(4.65,-2.7,4.4),(4.75,-2.72,3.6),(4.95,-2.75,1.2),(5.02,-2.78,0.8),(5.1,-2.75,1.8),(5.28,-2.88,1.3),
    (5.35,-2.85,4.4),(5.28,-3.0,1.2),(5.22,-3.1,1.0),(5.08,-2.95,1.2),(4.72,-2.8,4.4),(4.55,-2.78,4.4),(4.42,-2.82,4.4),
    (4.3,-2.78,3.0),(4.25,-2.88,4.4),(4.4,-2.92,4.4),(4.52,-2.88,3.4),(4.62,-2.9,4.4),(4.72,-2.9,1.0),(4.82,-2.98,4.4),
    (4.75,-3.05,3.4),(4.58,-3.0,1.3),(4.48,-3.0,0.9),(4.38,-3.05,0.8),(4.28,-3.0,1.0),(4.22,-3.1,1.0),(4.15,-3.15,0.9),
    (4.12,-3.05,0.7),(4.2,-3.22,0.7),(4.3,-3.18,0.7),(4.38,-3.15,0.6),(4.45,-3.2,0.8),(4.52,-3.12,1.2),(4.55,-3.25,1.8),
    (4.42,-3.3,1.0),(4.32,-3.3,2.0),(4.25,-3.3,1.1),(4.15,-3.25,1.4),(4.65,-3.1,1.0),(4.75,-3.15,0.9),(4.85,-3.2,0.9),
    (4.92,-3.1,0.8),(5.0,-3.15,0.7),(4.9,-3.28,1.5),(4.98,-3.3,1.8),(4.78,-3.35,1.7),(4.72,-3.28,1.0),(4.6,-3.32,3.4),
    (4.68,-3.42,4.4),(4.45,-3.42,1.2),(4.5,-3.5,1.2),(4.55,-3.58,0.7),(4.62,-3.55,0.9),(4.72,-3.6,0.8),(4.95,-3.45,4.4),
    (5.05,-3.52,4.4),(5.12,-3.38,1.3),(5.2,-3.3,4.4),(5.25,-3.5,1.4),(5.15,-3.6,1.5),(5.05,-3.62,4.4),(4.9,-3.55,2.0),
    (4.82,-3.62,0.8),(4.38,-3.78,0.8),(4.4,-3.82,3.4),(4.48,-3.8,3.0),(4.55,-3.82,3.2),(4.5,-3.98,2.0),(4.62,-4.0,1.2),
    (4.72,-3.95,0.8),(4.65,-4.08,0.7),(4.58,-4.15,1.6),(4.75,-4.25,0.7),(4.85,-3.88,1.0),(4.88,-4.02,1.6),(5.0,-3.9,0.7),
    (4.4,-3.68,4.4),(4.5,-3.72,4.4),(4.45,-3.92,4.4),(4.55,-3.86,4.4),(4.4,-3.6,1.0),(4.48,-4.22,1.2),(4.38,-4.18,3.4),
    (4.5,-4.28,1.5),(4.42,-4.28,1.0),(4.58,-4.3,0.9),(4.68,-4.32,0.7),(4.78,-4.3,1.0),(4.88,-4.3,0.8),(4.96,-4.35,4.4),
    (5.1,-4.4,0.7),(5.22,-4.32,4.4),(5.28,-4.28,0.7),(5.38,-4.2,0.8),(5.3,-4.1,0.9),(5.18,-4.05,1.6),(5.12,-3.96,1.3),
    (5.2,-3.88,3.0),(5.3,-3.92,0.9),(5.42,-3.85,0.9),(5.5,-3.9,0.7),(5.45,-3.72,1.0),(5.58,-3.75,0.8),(5.65,-3.65,0.9),
    (5.55,-3.55,1.6),(5.72,-3.55,0.8),(5.8,-3.45,1.2),(5.68,-3.42,3.0),(5.5,-3.42,0.7),(5.38,-3.55,0.8),(5.3,-3.62,1.0),
    (5.22,-3.72,0.9),(5.1,-3.82,3.2),(5.02,-4.18,4.4),(5.25,-4.15,4.4),(5.15,-4.12,4.4),(5.2,-4.2,3.0),(5.35,-4.45,2.4),
    (5.42,-4.52,1.0),(5.5,-4.52,0.9),(5.55,-4.48,1.2),(5.48,-4.42,1.8),(5.02,-4.52,1.0),(4.92,-4.45,1.2),(5.6,-3.98,3.2),
    (5.62,-3.88,0.9),(5.72,-3.8,1.8),(5.85,-3.62,1.1),(6.0,-3.55,4.4),(6.15,-3.58,4.4),(6.0,-3.42,1.0),(6.1,-3.35,1.0),
    (6.2,-3.28,1.4),(5.9,-3.28,1.0),(5.95,-3.2,0.9),(6.0,-3.12,0.7),(6.1,-3.1,0.9),(6.15,-3.0,0.7),(5.85,-3.35,4.4),
    (5.75,-3.3,4.4),(5.72,-3.15,3.4),(5.65,-3.22,1.0),(5.6,-3.28,4.4),(5.58,-3.4,1.5),(5.55,-3.15,1.6),(5.48,-3.2,1.4),
    (5.4,-3.28,1.6),(5.65,-3.42,2.0),(6.32,-3.5,4.4),(6.42,-3.35,2.4),(6.5,-3.5,1.3),(6.28,-3.62,1.0),(6.45,-3.62,1.4),
    (6.5,-3.78,1.6),(6.72,-3.7,0.8),(6.6,-3.8,0.7),(6.42,-3.72,1.5),(6.62,-3.55,1.4),(6.4,-2.95,0.7),(6.45,-2.85,1.2),
    (6.52,-2.78,1.3),(6.7,-2.72,1.2),(6.6,-2.6,3.0),(6.72,-2.5,4.4),(6.82,-2.35,2.6),(6.85,-2.45,1.6),(6.92,-2.6,1.6),
    (6.95,-2.72,2.0),(6.88,-2.75,2.0),(7.0,-2.68,3.6),(6.85,-2.8,4.4),(6.72,-2.95,1.4),(6.62,-2.82,1.0),(6.65,-3.0,4.4),
    (6.75,-3.0,4.4),(6.62,-3.12,1.0),(6.55,-3.05,4.4),(6.62,-3.18,4.4),(6.72,-3.12,4.4),(6.85,-3.08,4.4),(6.92,-3.02,2.0),
    (6.82,-3.18,4.4),(6.72,-3.28,4.4),(6.88,-3.3,2.0),(6.78,-3.38,4.4),(6.95,-3.25,1.6),(6.78,-3.48,4.4),(6.68,-3.42,1.6),
    (6.92,-3.42,4.4),(7.0,-3.45,3.4),(7.05,-3.3,2.6),(7.1,-3.45,2.4),(7.15,-3.55,1.4),(6.82,-3.55,4.4),(6.95,-3.55,4.4),
    (7.05,-3.62,1.0),(7.0,-3.72,1.2),(6.88,-3.62,1.5),(7.15,-3.35,1.8),(6.95,-3.68,3.2),(6.75,-3.55,4.4),(6.5,-3.1,1.0),
    (6.2,-2.75,4.4),(6.25,-2.62,4.4),(6.35,-2.72,2.0),(5.85,-2.9,2.2),(5.55,-2.9,0.8),(5.75,-2.98,2.0),(6.03,-3.0,4.4),
    (6.22,-3.08,0.8),(6.52,-2.95,4.4),(5.45,-3.0,0.8),(6.15,-3.12,4.4),(6.35,-3.28,4.4),
    (4.55,-3.45,4.4),(4.78,-3.48,3.0),(4.3,-4.95,1.6),(4.35,-4.9,3.2),(4.38,-4.85,3.4),(4.42,-4.82,2.6),(4.28,-4.98,2.0),
    (4.45,-4.75,1.2),(4.33,-4.93,2.0),
    # second pass over the crowded parts of the bottom
    (5.35,-3.75,0.7),(5.42,-3.95,0.7),(5.5,-3.72,0.7),(5.58,-3.65,0.7),(5.52,-3.82,0.7),(5.38,-4.02,0.8),(5.32,-3.82,0.7),
    (5.25,-3.85,0.8),(5.18,-3.95,0.9),(5.28,-4.0,0.7),(5.4,-4.12,0.7),(5.45,-3.62,0.9),(5.6,-3.45,1.0),(5.72,-3.45,1.3),
    (5.78,-3.55,1.0),(5.88,-3.48,1.2),(5.52,-3.6,1.3),(4.2,-3.1,0.7),(4.25,-3.2,0.6),(4.32,-3.1,0.7),(4.18,-3.0,0.8),
    (4.35,-3.22,0.7),(4.42,-3.1,0.7),(4.28,-3.25,0.6),(4.12,-3.18,0.7),(6.72,-3.05,4.4),(6.8,-3.25,4.4),(6.68,-3.18,4.4),
    (6.78,-3.1,4.4),(6.85,-3.42,4.4),(6.75,-3.32,3.0),(6.88,-3.5,3.2),(7.0,-3.35,1.6),(7.05,-3.48,2.0),(6.98,-3.58,1.6),
    (7.08,-3.55,1.2),(6.82,-2.55,2.2),(6.88,-2.62,2.6),(6.95,-2.5,1.6),(6.78,-2.65,2.2),
    (4.48,-2.72,4.4),(4.38,-2.72,4.4),(4.58,-2.85,4.4),(4.5,-2.95,2.6),(4.3,-2.92,3.0),(4.45,-2.76,3.0),
]
expression_ticks = [1, 2, 3, 4]
x_ticks = [-10, -5, 0, 5, 10]
y_ticks = [-5.0, -2.5, 0.0, 2.5, 5.0]

cells = arc_cells + valley_cells + branch_cells + patch_cells + right_top_cells + right_mid_cells + left_strand_cells + right_low_cells
umap_1 = [c[0] for c in cells]
umap_2 = [c[1] for c in cells]
expression = [c[2] for c in cells]

bar_min, bar_max = 0.11, 4.51
grey_red = [[0, "#D3D3D3"], [0.25, "#C8A59C"], [0.5, "#B06E5C"], [0.75, "#9E3F2E"], [1, "#8B0000"]]
tick_font = dict(family="Liberation Sans", size=32, color="black")
bar_tick_color = "rgba(255,255,255,0.75)"


def bar_ticks(x_left, thickness):
    # thin strip of the colour bar that only carries white ticks on its right edge
    return dict(
        x=x_left, xanchor="left", xpad=0, y=0.6245, yanchor="top", ypad=0,
        lenmode="pixels", len=205, thicknessmode="pixels", thickness=thickness, outlinewidth=0,
        tickvals=expression_ticks, ticks="inside", ticklen=thickness, tickwidth=1.5, tickcolor=bar_tick_color,
        showticklabels=False,
    )


fig = go.Figure(go.Scatter(
    x=umap_1, y=umap_2, mode="markers", hoverinfo="skip",
    marker=dict(
        size=5.5, color=expression, cmin=bar_min, cmax=bar_max, colorscale=grey_red,
        colorbar=dict(
            x=1.0357, xanchor="left", xpad=0, y=0.6245, yanchor="top", ypad=0,
            lenmode="pixels", len=205, thicknessmode="pixels", thickness=41, outlinewidth=0,
            tickvals=expression_ticks, ticks="outside", ticklen=11, tickwidth=1, tickcolor="white",
            tickfont=tick_font,
        ),
    ),
))

# ggplot draws the bar ticks on both sides of the bar, so two thin strips carry them
for strip_left in [1.0357, 1.0357 + 33 / 1038]:
    fig.add_trace(go.Scatter(
        x=[None], y=[None], mode="markers", hoverinfo="skip",
        marker=dict(color=[bar_min], cmin=bar_min, cmax=bar_max, colorscale=grey_red,
                    colorbar=bar_ticks(strip_left, 8)),
    ))

fig.update_layout(
    width=1344, height=960, autosize=False,
    margin=dict(l=150, r=156, t=83, b=134),
    paper_bgcolor="white", plot_bgcolor="white",
    showlegend=False,
    font=dict(family="Liberation Sans", color="black"),
    title=dict(text="<b>CCL19</b>", x=669 / 1344, xanchor="center", y=1 - 42 / 960, yanchor="middle",
               font=dict(family="Liberation Sans", size=42.5, color="black")),
)
fig.update_xaxes(
    range=[-11.99, 10], tickvals=x_ticks, ticktext=[str(v) for v in x_ticks],
    showgrid=False, zeroline=False, showline=True, linecolor="black", linewidth=2.5,
    ticks="outside", ticklen=9, tickwidth=2.5, tickcolor="black", tickfont=tick_font, ticklabelstandoff=-7,
    title=dict(text="UMAP_1", font=dict(family="Liberation Sans", size=36.5), standoff=12),
)
fig.update_yaxes(
    range=[-5.49, 5.5], tickvals=y_ticks, ticktext=[f"{v:.1f}" for v in y_ticks],
    showgrid=False, zeroline=False, showline=True, linecolor="black", linewidth=2.5,
    ticks="outside", ticklen=9, tickwidth=2.5, tickcolor="black", tickfont=tick_font, ticklabelstandoff=-4,
    title=dict(text="UMAP_2", font=dict(family="Liberation Sans", size=36.5), standoff=20),
)

fig.write_html("out.html")
